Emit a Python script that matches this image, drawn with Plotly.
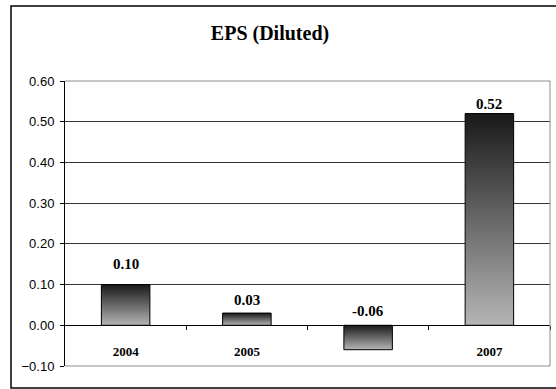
import plotly.graph_objects as go

# EPS (diluted) by fiscal year
years = ["2004", "2005", "2006", "2007"]
eps = [0.10, 0.03, -0.06, 0.52]

# y-axis ticks
y_ticks = [-0.10, 0.00, 0.10, 0.20, 0.30, 0.40, 0.50, 0.60]

# styling
bar_width = 0.40
label_lift = [21, 13, 14, 10]   # px above the bar top / zero line
serif = "Liberation Serif, 'Times New Roman', serif"
sans = "Liberation Sans, Arial, sans-serif"

fig = go.Figure()

# gradient bars: dark at top, light at bottom
for i, v in enumerate(eps):
    c = i + 0.5
    x0, x1 = c - bar_width / 2, c + bar_width / 2
    fig.add_trace(go.Scatter(
        x=[x0, x1, x1, x0, x0],
        y=[0, 0, v, v, 0],
        mode="lines",
        fill="toself",
        fillgradient=dict(type="vertical",
                          colorscale=[[0, "#b5b5b5"], [1, "#191919"]]),
        line=dict(color="black", width=1),
        hoverinfo="skip",
        showlegend=False,
    ))

# value labels
for i, v in enumerate(eps):
    fig.add_annotation(
        x=i + 0.5, y=max(v, 0), xref="x", yref="y",
        text=f"<b>{v:.2f}</b>", showarrow=False,
        yanchor="middle", yshift=label_lift[i],
        font=dict(family=serif, size=15, color="black"),
    )

# category labels sit below the zero line; a negative bar covers its label
cat_text = [f"<b>{y}</b>" if v >= 0 else "" for y, v in zip(years, eps)]

zero_pos = (0 - y_ticks[0]) / (y_ticks[-1] - y_ticks[0])

fig.update_layout(
    width=556, height=389,
    margin=dict(l=65, r=6, t=81, b=23),
    paper_bgcolor="white", plot_bgcolor="white",
    title=dict(text="<b>EPS (Diluted)</b>", x=270 / 556, xanchor="center",
               y=1 - 33 / 389, yanchor="middle", xref="container", yref="container",
               font=dict(family=serif, size=20, color="black")),
    yaxis=dict(range=[y_ticks[0], y_ticks[-1]], tickvals=y_ticks,
               tickformat=".2f", ticks="outside", ticklen=4, tickcolor="black",
               showline=True, linecolor="black", linewidth=1,
               showgrid=True, gridcolor="#333333", gridwidth=1,
               zeroline=False, ticklabelstandoff=3,
               tickfont=dict(family=sans, size=13, color="black")),
    # category axis crossing at y = 0
    xaxis=dict(range=[0, len(years)], anchor="free", position=zero_pos,
               tickvals=[i + 0.5 for i in range(len(years))], ticktext=cat_text,
               ticks="", showgrid=False, zeroline=False,
               showline=True, linecolor="black", linewidth=1,
               layer="below traces", ticklabelstandoff=14,
               minor=dict(tickvals=list(range(1, len(years) + 1)),
                          ticks="outside", ticklen=4, tickcolor="black"),
               tickfont=dict(family=serif, size=13, color="black")),
    xaxis2=dict(range=[0, len(years)], overlaying="x", anchor="free",
                position=zero_pos, tickvals=list(range(1, len(years) + 1)),
                ticks="inside", ticklen=4, tickcolor="black",
                showticklabels=False, showgrid=False, zeroline=False,
                showline=False),
)

# plot area border (top, right, bottom)
fig.add_shape(type="path", xref="paper", yref="paper",
              path="M 0,1 L 1,1 L 1,0 L 0,0",
              line=dict(color="#8c8c8c", width=1), layer="above")

# chart area border
fig.add_shape(type="rect", xref="paper", yref="paper",
              x0=(11 - 65) / 485, x1=(566 - 65) / 485,
              y0=(366 - 388) / 285, y1=(366 - 6) / 285,
              line=dict(color="black", width=1.5), layer="above")

fig.write_html("out.html")
